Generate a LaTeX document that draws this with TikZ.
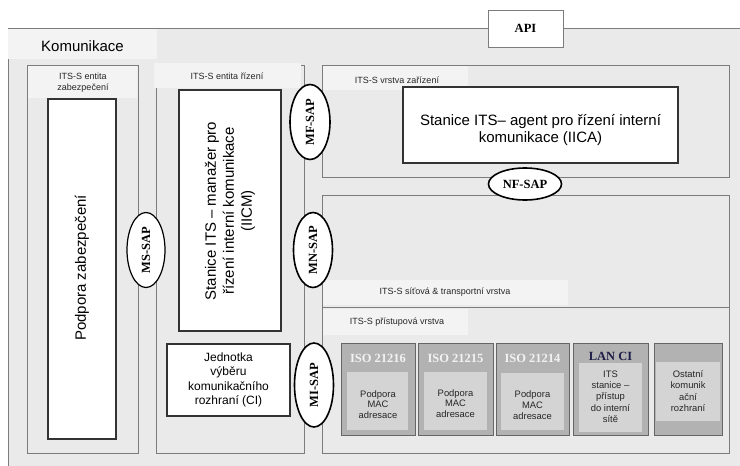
\documentclass[tikz,border=0pt]{standalone}
\usepackage{fontspec}
\setmainfont{Liberation Sans}
\newfontfamily\tnr{Liberation Serif}
\usetikzlibrary{shapes.geometric}
\definecolor{bgc}{HTML}{EAEAEA}
\definecolor{lblc}{HTML}{F3F3F3}
\definecolor{framec}{HTML}{7C7C7C}
\definecolor{accout}{HTML}{B2B2B2}
\definecolor{accinc}{HTML}{D4D4D4}
\definecolor{accline}{HTML}{666666}
\definecolor{navy}{HTML}{1E1E48}
\definecolor{titlec}{HTML}{F2F2F2}
\begin{document}
\begin{tikzpicture}[x=1pt,y=-1pt,
  frame/.style={draw=framec, line width=0.9pt, fill=bgc, inner sep=0pt},
  lblbg/.style={fill=lblc, draw=none, inner sep=0pt},
  wbox/.style={draw=black!80, line width=1.3pt, fill=white, inner sep=0pt, align=center},
  sap/.style={ellipse, draw=black, line width=1.6pt, fill=white, inner sep=0pt,
    font=\tnr\bfseries\fontsize{12.5}{14}\selectfont},
  acc/.style={draw=accline, line width=1pt, fill=accout, inner sep=0pt},
  accin/.style={fill=accinc, draw=none, inner sep=0pt},
  small/.style={font=\fontsize{9}{11}\selectfont, align=center, inner sep=0pt, text=black!85},
  accsmall/.style={font=\fontsize{9.4}{10.8}\selectfont, align=center, inner sep=0pt, text=black!85},
  big/.style={font=\fontsize{15}{18}\selectfont, align=center, inner sep=0pt},
  isot/.style={font=\tnr\bfseries\fontsize{12.5}{14}\selectfont, text=titlec, inner sep=0pt}
]
\useasboundingbox (0,0) rectangle (740,466);
\clip (0,0) rectangle (740,466);
\fill[white] (0,0) rectangle (740,466);
% outer frame
\node[frame, minimum width=772pt, minimum height=470pt] (outer) at (394,263) {};
\node[lblbg, minimum width=149pt, minimum height=30pt] (kombg) at (82.5,44) {};
\node[anchor=west, inner sep=0pt, font=\fontsize{15}{18}\selectfont] (kom) at (41,46) {Komunikace};
% API
\node[draw=framec, line width=0.9pt, fill=white, minimum width=75pt, minimum height=37pt, inner sep=0pt,
  font=\tnr\bfseries\fontsize{12.5}{14}\selectfont] (api) at (525.5,28.5) {API};
% security entity
\node[frame, minimum width=111pt, minimum height=388pt] (sec) at (82.5,259) {};
\node[lblbg, minimum width=109pt, minimum height=32pt] (secbg) at (82.5,82) {};
\node[small] (seclbl) at (83,82.5) {ITS-S entita\\zabezpečení};
\node[wbox, minimum width=68pt, minimum height=340pt] (secw) at (82,269) {};
\node[big, rotate=90] (sectxt) at (82,268) {Podpora zabezpečení};
% management entity
\node[frame, minimum width=148pt, minimum height=388pt] (mgmt) at (230,259) {};
\node[lblbg, minimum width=147pt, minimum height=25pt] (mgmtbg) at (227.5,75.5) {};
\node[small] (mgmtlbl) at (227,76) {ITS-S entita řízení};
\node[wbox, minimum width=102pt, minimum height=241pt] (iicm) at (230,210.5) {};
\node[big, rotate=90] (iicmtxt) at (230,211) {Stanice ITS – manažer pro\\řízení interní komunikace\\(IICM)};
\node[wbox, minimum width=123pt, minimum height=72pt, font=\fontsize{12}{14.4}\selectfont] (ci) at (228.5,380) {Jednotka\\výběru\\komunikačního\\rozhraní (CI)};
% facility layer
\node[frame, minimum width=407pt, minimum height=112pt] (fac) at (525.5,121) {};
\node[lblbg, minimum width=145pt, minimum height=24pt] (facbg) at (395.5,78) {};
\node[small] (faclbl) at (397,80) {ITS-S vrstva zařízení};
\node[wbox, minimum width=275pt, minimum height=76pt] (iica) at (540.5,125) {};
\node[font=\fontsize{15}{17}\selectfont, align=center, inner sep=0pt] (iicatxt) at (540.5,130) {Stanice ITS– agent pro řízení interní\\komunikace (IICA)};
% network + access layers
\node[frame, minimum width=407pt, minimum height=258pt] (netacc) at (525.5,324) {};
\node[lblbg, minimum width=245pt, minimum height=25pt] (netbg) at (445.5,292.5) {};
\node[small] (netlbl) at (445,292) {ITS-S síťová \& transportní vrstva};
\coordinate (dl) at (322,307);
\coordinate (dr) at (729,307);
\draw[framec, line width=0.9pt] (dl) -- (dr);
\node[lblbg, minimum width=145pt, minimum height=26pt] (accbg) at (395.5,322) {};
\node[small] (acclbl) at (397,322) {ITS-S přístupová vrstva};
% access boxes
\node[acc, minimum width=74pt, minimum height=92pt] (b1) at (378,389) {};
\node[accin, minimum width=61pt, minimum height=58pt] (b1i) at (377.5,401) {};
\node[isot] (b1t) at (378,358) {ISO 21216};
\node[accsmall] (b1x) at (378,404.5) {Podpora\\MAC\\adresace};
\node[acc, minimum width=75pt, minimum height=92pt] (b2) at (455.5,389) {};
\node[accin, minimum width=63pt, minimum height=58pt] (b2i) at (455.5,401) {};
\node[isot] (b2t) at (455.5,358) {ISO 21215};
\node[accsmall] (b2x) at (455.5,403.5) {Podpora\\MAC\\adresace};
\node[acc, minimum width=73pt, minimum height=92pt] (b3) at (532.5,389) {};
\node[accin, minimum width=63pt, minimum height=57pt] (b3i) at (532.5,401.5) {};
\node[isot] (b3t) at (532.5,358) {ISO 21214};
\node[accsmall] (b3x) at (532.5,405) {Podpora\\MAC\\adresace};
\node[acc, minimum width=75pt, minimum height=92pt] (b4) at (610.5,389) {};
\node[accin, minimum width=63pt, minimum height=69pt] (b4i) at (610.5,397.5) {};
\node[isot, text=navy] (b4t) at (610.5,356.5) {LAN CI};
\node[accsmall, font=\fontsize{9.4}{11.3}\selectfont] (b4x) at (610.5,396.5) {ITS\\stanice –\\přístup\\do interní\\sítě};
\node[acc, minimum width=68pt, minimum height=92pt] (b5) at (688,389) {};
\node[accin, minimum width=64pt, minimum height=59pt] (b5i) at (688,391.5) {};
\node[accsmall, font=\fontsize{9.4}{11.3}\selectfont] (b5x) at (688,391) {Ostatní\\komunik\\ační\\rozhraní};
% SAP ellipses
\node[sap, minimum width=40pt, minimum height=75pt] (mf) at (310,122) {\rotatebox{90}{MF-SAP}};
\node[sap, minimum width=38pt, minimum height=75pt, line width=1.2pt] (ms) at (146,250) {\rotatebox{90}{MS-SAP}};
\node[sap, minimum width=39pt, minimum height=75pt] (mn) at (313,250) {\rotatebox{90}{MN-SAP}};
\node[sap, minimum width=39pt, minimum height=84pt] (mi) at (314,385) {\rotatebox{90}{MI-SAP}};
\node[sap, minimum width=73pt, minimum height=32pt] (nf) at (525,184) {NF-SAP};
\end{tikzpicture}
\end{document}
